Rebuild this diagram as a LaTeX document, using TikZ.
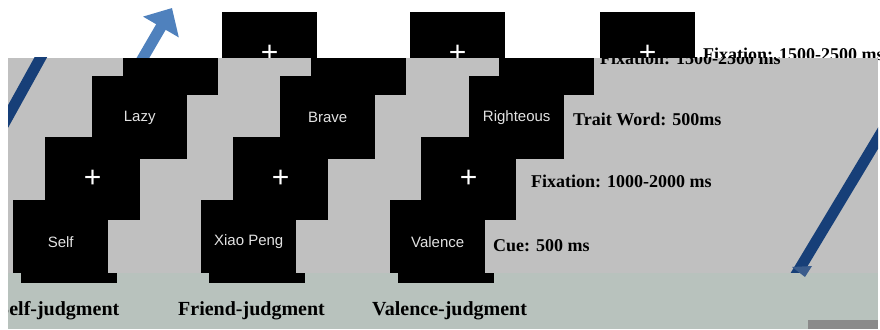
\documentclass[tikz,border=0pt]{standalone}
\usepackage{fontspec}
\setmainfont{Liberation Serif}
\setsansfont{Liberation Sans}
\usetikzlibrary{arrows.meta}
\definecolor{bggrey}{HTML}{C0C0C0}
\definecolor{band}{HTML}{B8C2BD}
\definecolor{dkblue}{HTML}{173F78}
\definecolor{ltblue}{HTML}{4F81BD}
\definecolor{boxtxt}{HTML}{E2E2E2}
\definecolor{cornergrey}{HTML}{8A8A8A}
\begin{document}
\begin{tikzpicture}[x=1pt,y=-1pt,
  scr/.style={fill=black, inner sep=0pt, minimum width=95pt, minimum height=83pt, anchor=north west, text=boxtxt, font=\sffamily\fontsize{15}{18}\selectfont},
  fixscr/.style={scr, font=\sffamily\fontsize{30}{30}\selectfont, text=white},
  lbl/.style={anchor=base west, inner sep=0pt, font=\bfseries\fontsize{18}{20}\selectfont},
  cond/.style={anchor=base west, inner sep=0pt, font=\bfseries\fontsize{20}{22}\selectfont},
  bar/.style={fill=black, inner sep=0pt, minimum width=96pt, minimum height=10pt, anchor=north west},
  flow/.style={line width=11pt, draw=dkblue}
]
\useasboundingbox (0,0) rectangle (880,329);
\fill[white] (0,0) rectangle (880,329);

% top row (white region)
\node[fixscr] (t1) at (222,12) {+};
\node[fixscr] (t2) at (410,12) {+};
\node[fixscr] (t3) at (600,12) {+};
\node[lbl] (fixlong) at (703,60) {Fixation: 1500-2500 ms};
\coordinate (ua) at (133,75);
\coordinate (ub) at (172,8);
\draw[line width=11pt, draw=ltblue, -{Triangle[width=40pt,length=22pt]}] (ua) -- (ub);

% grey panel
\fill[bggrey] (8,58) rectangle (878,273);
\begin{scope}
  \clip (8,58) rectangle (878,273);
  \coordinate (la) at (52,37);
  \coordinate (lb) at (0,131);
  \draw[flow] (la) -- (lb);
  \coordinate (ra) at (889,120);
  \coordinate (rb) at (794,278);
  \draw[flow] (ra) -- (rb);
  \node[lbl] (fixlong2) at (600,64) {Fixation: 1500-2500 ms};
\end{scope}

% column 1
\node[scr, minimum height=37pt] (g1) at (123,58) {};
\node[scr] (w1) at (92,76) {Lazy};
\node[fixscr] (f1) at (45,137) {+};
\node[scr] (c1) at (13,200) {Self};
% column 2
\node[scr, minimum height=37pt] (g2) at (311,58) {};
\node[scr] (w2) at (280,76) {Brave};
\node[fixscr] (f2) at (233,137) {+};
\node[scr] (c2) at (201,200) {Xiao Peng};
% column 3
\node[scr, minimum height=37pt] (g3) at (499,58) {};
\node[scr] (w3) at (469,76) {Righteous};
\node[fixscr] (f3) at (421,137) {+};
\node[scr] (c3) at (390,200) {Valence};

% phase labels
\node[lbl] (lt) at (573,125) {Trait Word: 500ms};
\node[lbl] (lf) at (531,187) {Fixation: 1000-2000 ms};
\node[lbl] (lc) at (493,251) {Cue: 500 ms};

% bottom band
\fill[band] (8,273) rectangle (878,329);
\node[bar] (s1) at (21,273) {};
\node[bar] (s2) at (209,273) {};
\node[bar] (s3) at (398,273) {};
\begin{scope}
  \clip (8,273) rectangle (878,329);
  \node[cond] (j1) at (-2,315) {Self-judgment};
\end{scope}
\node[cond] (j2) at (178,315) {Friend-judgment};
\node[cond] (j3) at (372,315) {Valence-judgment};

% arrow head poking into band, corner piece
\fill[dkblue!85!white] (792,267) -- (812,266) -- (805,277) -- cycle;
\fill[cornergrey] (808,320) rectangle (878,329);
\end{tikzpicture}
\end{document}
